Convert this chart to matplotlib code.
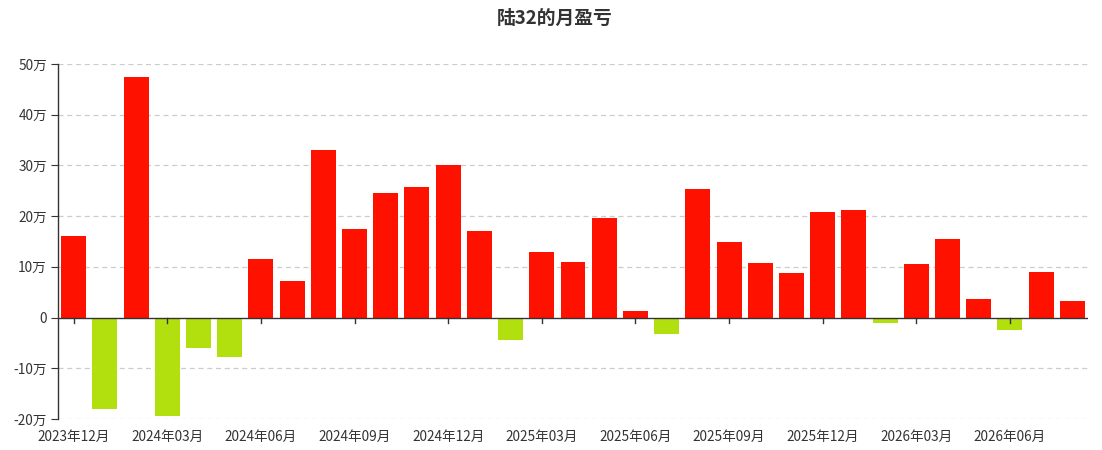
import matplotlib
matplotlib.use("Agg")
import matplotlib.pyplot as plt
import numpy as np

plt.rcParams['font.family'] = ['Noto Sans CJK SC', 'DejaVu Sans']

months = ["2023年12月", "2024年01月", "2024年02月", "2024年03月", "2024年04月", "2024年05月",
          "2024年06月", "2024年07月", "2024年08月", "2024年09月", "2024年10月", "2024年11月",
          "2024年12月", "2025年01月", "2025年02月", "2025年03月", "2025年04月", "2025年05月",
          "2025年06月", "2025年07月", "2025年08月", "2025年09月", "2025年10月", "2025年11月",
          "2025年12月", "2026年01月", "2026年02月", "2026年03月", "2026年04月", "2026年05月",
          "2026年06月", "2026年07月", "2026年08月"]
values = [16.0, -18.0, 47.5, -19.5, -6.0, -7.7,
          11.5, 7.3, 33.0, 17.5, 24.5, 25.8,
          30.0, 17.0, -4.5, 13.0, 11.0, 19.7,
          1.2, -3.2, 25.3, 15.0, 10.8, 8.7,
          20.8, 21.3, -1.0, 10.5, 15.5, 3.7,
          -2.5, 9.0, 3.2]
y_ticks = [-20, -10, 0, 10, 20, 30, 40, 50]
y_labels = ["-20万", "-10万", "0", "10万", "20万", "30万", "40万", "50万"]
title = "陆32的月盈亏"

pos_color = "#ff1100"
neg_color = "#b2df0e"

W, H = 1102, 450
fig = plt.figure(figsize=(W / 100, H / 100), dpi=100)
left, right, top, bottom = 58, 1088, 64, 419
ax = fig.add_axes([left / W, 1 - bottom / H, (right - left) / W, (bottom - top) / H])

x = np.arange(len(values))
colors = [pos_color if v >= 0 else neg_color for v in values]
ax.bar(x, values, width=0.8, color=colors, zorder=3)

ax.set_xlim(-0.5, len(values) - 0.5)
ax.set_ylim(-20, 50)
ax.set_yticks(y_ticks)
ax.set_yticklabels(y_labels)
for t in y_ticks:
    if t != 0:
        ax.axhline(t, color="#cccccc", linestyle=(0, (4, 3)), linewidth=0.9, zorder=1)

tick_idx = list(range(0, len(values), 3))
ax.set_xticks(tick_idx)
ax.set_xticklabels([months[i] for i in tick_idx])

for s in ["top", "right", "bottom"]:
    ax.spines[s].set_visible(False)
ax.spines["left"].set_color("#333333")
ax.spines["left"].set_linewidth(1)
ax.axhline(0, color="#333333", linewidth=1, zorder=4)

ax.tick_params(axis="y", length=5, color="#333333", labelsize=9.8, labelcolor="#333333", pad=3)
ax.tick_params(axis="x", length=0, labelsize=9.8, labelcolor="#333333", pad=8)

# x tick marks at the zero line
for i in tick_idx:
    ax.plot([i, i], [0, -1.0], color="#333333", linewidth=1, zorder=4, clip_on=False)

fig.text(555 / W, 1 - 18 / H, title, ha="center", va="center", fontsize=13.5,
         fontweight="bold", color="#333333")

fig.savefig("out.png", dpi=100)
